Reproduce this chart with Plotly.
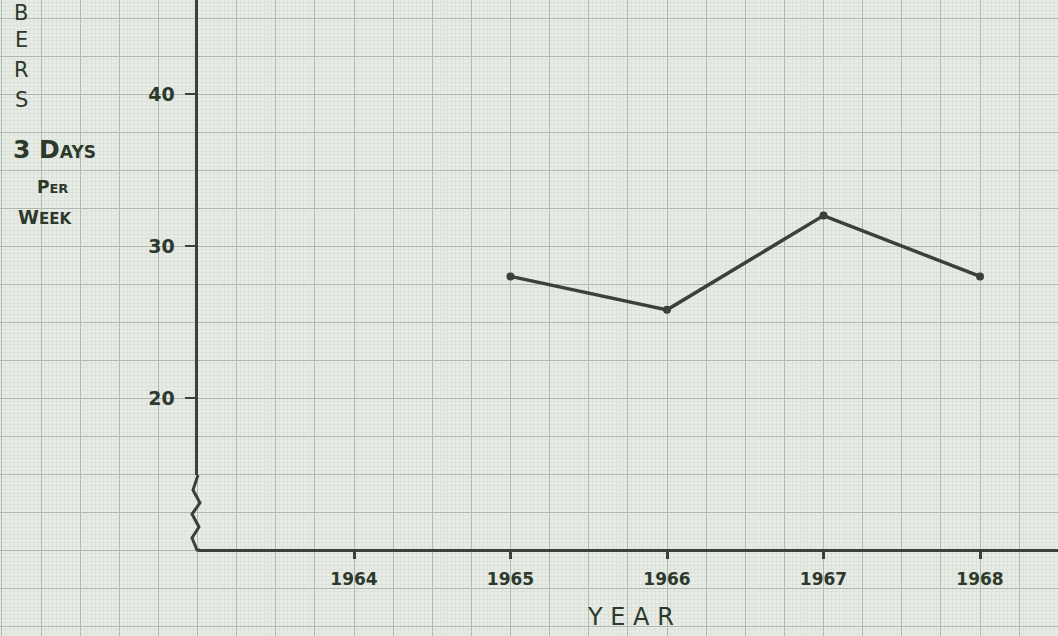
import plotly.graph_objects as go

# ---------------- data ----------------
years = [1965, 1966, 1967, 1968]
values = [28, 25.8, 32, 28]
x_tick_vals = [1964, 1965, 1966, 1967, 1968]
x_tick_text = ["1964", "1965", "1966", "1967", "1968"]
y_tick_vals = [20, 30, 40]
y_tick_text = ["20", "30", "40"]
y_title_letters = ["B", "E", "R", "S"]
y_title_extra = ["3 D<span style='font-size:17px'>AYS</span>", "P<span style='font-size:13px'>ER</span>", "W<span style='font-size:15px'>EEK</span>"]
x_title = "Y E A R"

# ---------------- geometry (pixels of the sheet) ----------------
W, H = 1058, 636
X_REF_YEAR, X_REF_PX, PX_PER_YEAR = 1964, 354, 156.5
Y_REF_VAL, Y_REF_PX, PX_PER_UNIT = 40, 94, 15.2
AXIS_X_PX, AXIS_Y_PX, BREAK_TOP_PX = 197.5, 550, 475

def px_to_year(px):
    return X_REF_YEAR + (px - X_REF_PX) / PX_PER_YEAR

def py_to_val(py):
    return Y_REF_VAL - (py - Y_REF_PX) / PX_PER_UNIT

def fx(px):
    return px / W

def fy(py):
    return 1 - py / H

INK = "#2c392b"
LINE = "#3b413a"
PAPER = "#e8ece6"
FONT = "DejaVu Sans"

fig = go.Figure()

# invisible trace holding the graph-paper grid subplot
fig.add_trace(go.Scatter(x=[px_to_year(0)], y=[py_to_val(0)], mode="markers",
                         marker=dict(opacity=0), xaxis="x", yaxis="y",
                         showlegend=False, hoverinfo="skip"))

# the data line
fig.add_trace(go.Scatter(x=years, y=values, mode="lines+markers",
                         line=dict(color=LINE, width=3.5),
                         marker=dict(color=LINE, size=8),
                         xaxis="x2", yaxis="y2", showlegend=False, cliponaxis=False))

grid_x = dict(domain=[0, 1], range=[px_to_year(0), px_to_year(W)],
              showgrid=True, gridcolor="#b1b8b0", gridwidth=1,
              tick0=1963, dtick=0.25,
              minor=dict(showgrid=True, tick0=1963, dtick=0.025, gridcolor="#dde2db", gridwidth=1),
              showticklabels=False, ticks="", zeroline=False, showline=False, fixedrange=True)
grid_y = dict(domain=[0, 1], range=[py_to_val(H), py_to_val(0)],
              showgrid=True, gridcolor="#b1b8b0", gridwidth=1,
              tick0=10, dtick=2.5,
              minor=dict(showgrid=True, tick0=10, dtick=0.25, gridcolor="#dde2db", gridwidth=1),
              showticklabels=False, ticks="", zeroline=False, showline=False, fixedrange=True)

fig.update_layout(
    width=W, height=H,
    margin=dict(l=0, r=0, t=0, b=0),
    paper_bgcolor=PAPER, plot_bgcolor="rgba(0,0,0,0)",
    xaxis=grid_x, yaxis=grid_y,
    xaxis2=dict(domain=[fx(AXIS_X_PX), 1], range=[px_to_year(AXIS_X_PX), px_to_year(W)],
                anchor="free", position=fy(AXIS_Y_PX),
                showline=True, linecolor=LINE, linewidth=3,
                tickvals=x_tick_vals, ticktext=x_tick_text,
                ticks="outside", ticklen=7, tickwidth=3, tickcolor=LINE,
                ticklabelstandoff=6,
                tickfont=dict(family=FONT, size=17, color=INK, weight="bold"),
                showgrid=False, zeroline=False),
    yaxis2=dict(domain=[fy(BREAK_TOP_PX), 1], range=[py_to_val(BREAK_TOP_PX), py_to_val(0)],
                anchor="x2",
                showline=True, linecolor=LINE, linewidth=3,
                tickvals=y_tick_vals, ticktext=y_tick_text,
                ticks="outside", ticklen=10, tickwidth=2, tickcolor=LINE,
                ticklabelstandoff=6,
                tickfont=dict(family=FONT, size=19, color=INK, weight="bold"),
                showgrid=False, zeroline=False),
    showlegend=False,
)

# axis break zigzag
zig = [(198, 475), (193, 490), (200, 503), (192, 514), (199, 527), (192, 538), (197, 550), (200, 550)]
path = "M " + " L ".join(f"{fx(a):.5f},{fy(b):.5f}" for a, b in zig)
fig.add_shape(type="path", path=path, xref="paper", yref="paper",
              line=dict(color=LINE, width=3))

# left hand-written axis title
letter_py = [13, 40, 70, 100]
for letter, py in zip(y_title_letters, letter_py):
    fig.add_annotation(x=fx(21), y=fy(py), xref="paper", yref="paper", text=letter,
                       xanchor="center", yanchor="middle",
                       showarrow=False, font=dict(family=FONT, size=21, color=INK))
extra_pos = [(54, 149, 25), (52, 187, 17), (45, 217, 19)]
for txt, (px, py, sz) in zip(y_title_extra, extra_pos):
    fig.add_annotation(x=fx(px), y=fy(py), xref="paper", yref="paper", text=txt,
                       xanchor="center", yanchor="middle",
                       showarrow=False, font=dict(family=FONT, size=sz, color=INK, weight="bold"))

fig.add_annotation(x=fx(630), y=fy(617), xref="paper", yref="paper", text=x_title,
                   xanchor="center", yanchor="middle",
                   showarrow=False, font=dict(family=FONT, size=24, color=INK))

fig.write_html("out.html", config={"displayModeBar": False},
               post_script="document.body.style.margin='0';document.body.style.overflow='hidden';")
